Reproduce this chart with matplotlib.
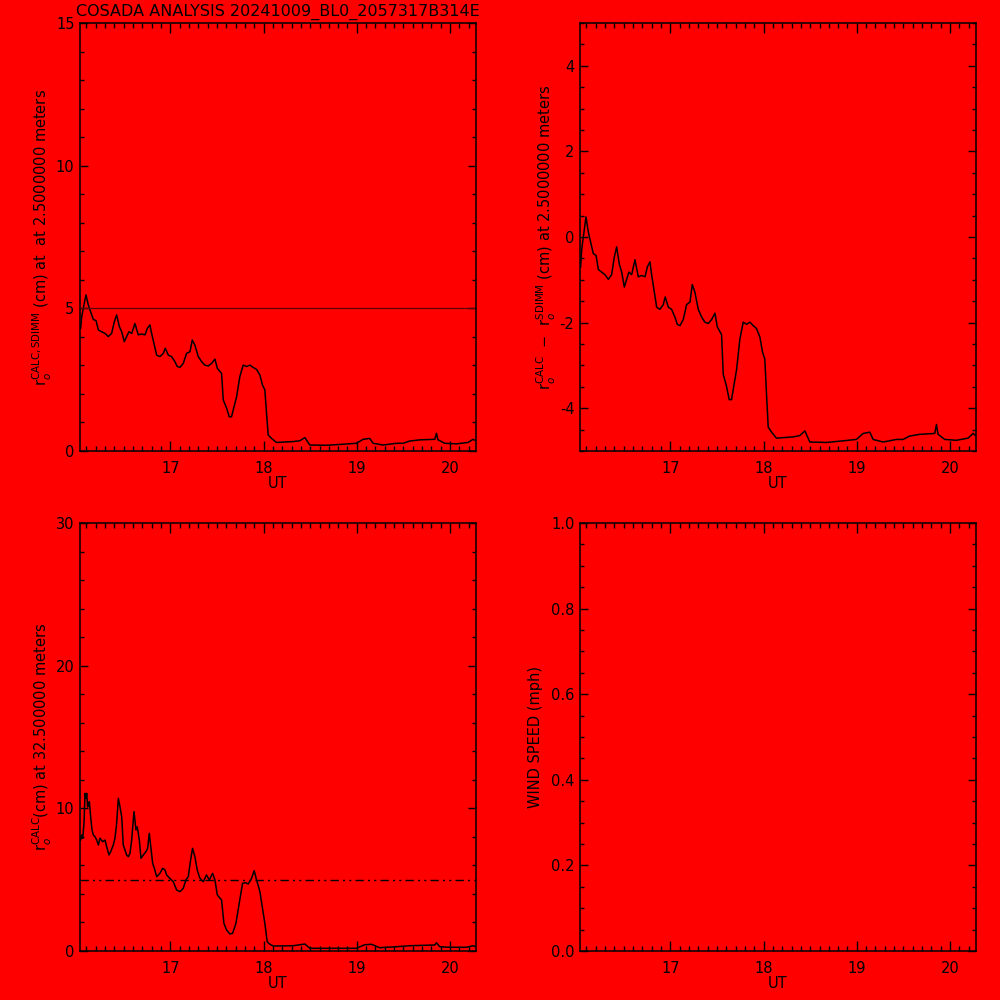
import matplotlib
matplotlib.use("Agg")
import matplotlib.pyplot as plt
from matplotlib.ticker import MultipleLocator, FormatStrFormatter
import numpy as np

# r0 CALC at 2.5 m (cm)
ut_25 = [16.039, 16.050, 16.075, 16.096, 16.121, 16.146, 16.175, 16.204, 16.229, 16.264,
         16.300, 16.336, 16.371, 16.400, 16.425, 16.454, 16.479, 16.507, 16.532, 16.557,
         16.586, 16.621, 16.657, 16.693, 16.729, 16.754, 16.782, 16.800, 16.825, 16.854,
         16.889, 16.925, 16.946, 16.979, 17.014, 17.050, 17.075, 17.104, 17.139, 17.175,
         17.211, 17.236, 17.264, 17.300, 17.336, 17.371, 17.407, 17.443, 17.479, 17.504,
         17.550, 17.568, 17.604, 17.632, 17.657, 17.675, 17.711, 17.746, 17.782, 17.818,
         17.854, 17.889, 17.925, 17.961, 17.989, 18.014, 18.032, 18.050, 18.086, 18.139,
         18.318, 18.389, 18.443, 18.496, 18.675, 18.818, 18.996, 19.068, 19.139, 19.175,
         19.282, 19.425, 19.496, 19.568, 19.675, 19.836, 19.854, 19.871, 19.943, 20.068,
         20.193, 20.246, 20.275]
r0_calc_25 = [4.30, 4.71, 5.12, 5.47, 5.12, 4.88, 4.61, 4.57, 4.24, 4.18,
              4.12, 4.01, 4.12, 4.53, 4.77, 4.36, 4.18, 3.83, 4.01, 4.18,
              4.12, 4.47, 4.07, 4.10, 4.07, 4.30, 4.42, 4.12, 3.77, 3.36,
              3.31, 3.42, 3.60, 3.36, 3.31, 3.13, 2.96, 2.93, 3.07, 3.42,
              3.48, 3.89, 3.71, 3.31, 3.13, 3.01, 2.98, 3.07, 3.22, 2.90,
              2.72, 1.79, 1.50, 1.20, 1.20, 1.44, 1.90, 2.61, 3.01, 2.96,
              3.01, 2.93, 2.86, 2.66, 2.31, 2.14, 1.32, 0.56, 0.44, 0.30,
              0.33, 0.36, 0.47, 0.21, 0.20, 0.23, 0.27, 0.41, 0.44, 0.27,
              0.21, 0.27, 0.27, 0.35, 0.39, 0.41, 0.62, 0.39, 0.27, 0.25,
              0.30, 0.41, 0.36]

r0_sdimm = 5.0

# r0 CALC at 32.5 m (cm), bottom-left panel
ut_325 = [16.039, 16.050, 16.061, 16.075, 16.086, 16.096, 16.104, 16.114, 16.125, 16.132,
          16.146, 16.161, 16.175, 16.193, 16.211, 16.229, 16.246, 16.275, 16.300, 16.318,
          16.343, 16.361, 16.389, 16.407, 16.425, 16.443, 16.461, 16.479, 16.496, 16.532,
          16.550, 16.568, 16.586, 16.611, 16.632, 16.646, 16.668, 16.686, 16.711, 16.739,
          16.757, 16.775, 16.789, 16.811, 16.829, 16.854, 16.889, 16.918, 16.943, 16.961,
          16.996, 17.032, 17.068, 17.104, 17.139, 17.168, 17.193, 17.218, 17.239, 17.264,
          17.289, 17.318, 17.354, 17.389, 17.418, 17.454, 17.479, 17.504, 17.550, 17.575,
          17.604, 17.639, 17.668, 17.704, 17.739, 17.775, 17.804, 17.836, 17.871, 17.900,
          17.925, 17.961, 17.986, 18.014, 18.039, 18.068, 18.104, 18.318, 18.443, 18.496,
          18.996, 19.086, 19.157, 19.246, 19.425, 19.568, 19.836, 19.854, 19.889, 19.996,
          20.175, 20.246, 20.275]
r0_calc_325 = [7.78, 8.13, 7.90, 8.95, 11.05, 10.70, 11.05, 10.10, 10.35, 10.47,
               9.42, 8.48, 8.13, 8.01, 7.78, 7.43, 7.90, 7.66, 7.78, 7.31,
               6.73, 6.96, 7.43, 7.90, 8.95, 10.70, 10.10, 9.42, 7.43, 6.73,
               6.61, 6.85, 7.78, 9.77, 8.48, 8.71, 7.78, 6.50, 6.73, 6.96,
               7.20, 8.25, 7.43, 6.15, 5.80, 5.21, 5.44, 5.80, 5.68, 5.33,
               5.09, 4.86, 4.28, 4.16, 4.39, 4.98, 5.21, 6.38, 7.20, 6.61,
               5.68, 5.09, 4.86, 5.33, 4.98, 5.44, 4.98, 3.93, 3.57, 1.94,
               1.47, 1.19, 1.24, 1.94, 3.34, 4.74, 4.79, 4.70, 5.09, 5.63,
               4.98, 4.16, 3.11, 1.94, 0.65, 0.47, 0.35, 0.37, 0.49, 0.19,
               0.19, 0.44, 0.47, 0.23, 0.30, 0.37, 0.42, 0.58, 0.30, 0.26,
               0.26, 0.37, 0.30]

title = "COSADA ANALYSIS 20241009_BL0_2057317B314E"
x_ticks = [17, 18, 19, 20]
xlim = (16.032, 20.278)

RED = '#ff0000'
plt.rcParams['font.family'] = ['DejaVu Sans']
plt.rcParams['axes.unicode_minus'] = False
plt.rcParams['mathtext.fontset'] = 'dejavusans'


def _style(ax, ylim, major, minor, ylabel, fmt=None, lpad=2):
    ax.set_facecolor(RED)
    ax.set_xlim(*xlim)
    ax.set_ylim(*ylim)
    ax.set_xticks(x_ticks)
    ax.xaxis.set_minor_locator(MultipleLocator(0.1))
    ax.yaxis.set_major_locator(MultipleLocator(major))
    ax.yaxis.set_minor_locator(MultipleLocator(minor))
    if fmt:
        ax.yaxis.set_major_formatter(FormatStrFormatter(fmt))
    ax.tick_params(axis='both', which='both', direction='in', top=True, right=True,
                   width=1.0, colors='black', labelsize=10.5)
    ax.tick_params(axis='x', which='major', length=7.5, pad=7)
    ax.tick_params(axis='x', which='minor', length=3.8)
    ax.tick_params(axis='y', which='major', length=6, pad=4)
    ax.tick_params(axis='y', which='minor', length=3)
    for s in ax.spines.values():
        s.set_linewidth(1.1)
    ax.set_xlabel("UT", fontsize=10.5, labelpad=0)
    ax.set_ylabel(ylabel, fontsize=10.5, labelpad=lpad)


fig = plt.figure(figsize=(10, 10), dpi=100, facecolor=RED)
ax1 = fig.add_axes([0.080, 0.549, 0.396, 0.428])
ax2 = fig.add_axes([0.580, 0.549, 0.396, 0.428])
ax3 = fig.add_axes([0.080, 0.049, 0.396, 0.428])
ax4 = fig.add_axes([0.580, 0.049, 0.396, 0.428])

# top left: r0 calc vs sdimm at 2.5 m
ax1.plot(ut_25, r0_calc_25, color='black', lw=1.1)
ax1.axhline(r0_sdimm, color='#5a0000', lw=0.9)
_style(ax1, (0, 15), 5, 1,
       r'$\mathrm{r}_o^{\mathrm{CALC,SDIMM}}$ (cm) at  at 2.5000000 meters', lpad=1)

# top right: difference
diff = np.array(r0_calc_25) - r0_sdimm
ax2.plot(ut_25, diff, color='black', lw=1.1)
_style(ax2, (-5, 5), 2, 0.5,
       r'$\mathrm{r}_o^{\mathrm{CALC}}$  $-$  $\mathrm{r}_o^{\mathrm{SDIMM}}$ (cm) at 2.5000000 meters',
       lpad=1)

# bottom left: r0 at 32.5 m
ax3.plot(ut_325, r0_calc_325, color='black', lw=1.1)
ax3.axhline(r0_sdimm, color='black', lw=1.0, linestyle=(0, (6, 3, 1.5, 3, 1.5, 3)))
_style(ax3, (0, 30), 10, 2,
       r'$\mathrm{r}_o^{\mathrm{CALC}}$(cm) at 32.500000 meters', lpad=1)

# bottom right: wind speed (empty)
_style(ax4, (0, 1), 0.2, 0.05, 'WIND SPEED (mph)', fmt='%.1f', lpad=6)

fig.text(0.278, 0.988, title, ha='center', va='center', fontsize=11.5)

fig.savefig("out.png", dpi=100, facecolor=RED)
